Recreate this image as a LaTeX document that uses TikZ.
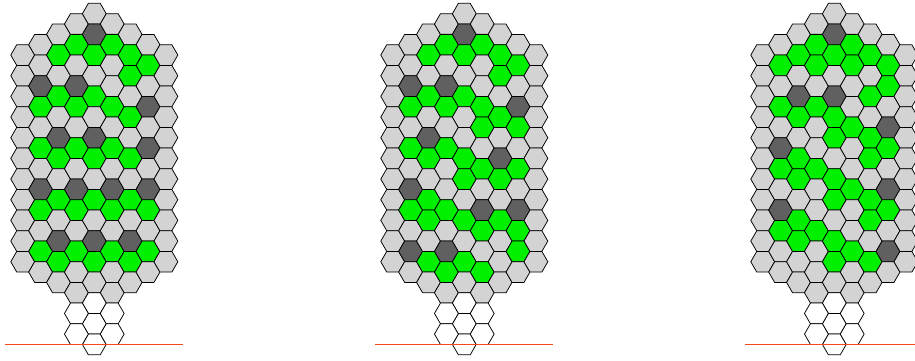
\documentclass[tikz,border=0pt]{standalone}
\usetikzlibrary{shapes.geometric}
\definecolor{hgray}{RGB}{211,211,211}
\definecolor{hdark}{RGB}{96,96,96}
\definecolor{hgreen}{RGB}{0,240,0}
\definecolor{hred}{RGB}{250,70,30}
\newcommand\markcells[3]{\foreach \cc/\kk in {#3}{\expandafter\xdef\csname hexcell-#1-\cc-\kk\endcsname{#2}}}
% grid 1
\markcells{1}{hdark}{4/2,1/7,3/7,7/9,2/12,4/12,7/13,1/17,3/17,5/17,7/17,2/22,4/22,6/22}
\markcells{1}{hgreen}{3/3,5/3,2/4,4/4,6/4,7/5,6/6,2/8,4/8,1/9,3/9,5/9,6/10,1/13,3/13,5/13,2/14,4/14,6/14,2/18,4/18,6/18,1/19,3/19,5/19,7/19,1/23,3/23,5/23,7/23,2/24,4/24,6/24}
% grid 2
\markcells{2}{hdark}{4/2,1/7,3/7,7/9,2/12,6/14,1/17,5/19,7/19,1/23,3/23}
\markcells{2}{hgreen}{3/3,5/3,2/4,4/4,6/4,7/5,6/6,2/8,4/8,1/9,3/9,5/9,6/10,5/11,7/11,1/13,3/13,2/14,4/14,5/15,7/15,4/16,6/16,2/18,1/19,3/19,2/20,4/20,6/20,5/21,7/21,7/23,2/24,4/24,3/25,5/25}
% grid 3
\markcells{3}{hdark}{4/2,2/8,4/8,7/11,1/13,7/17,1/19,7/23}
\markcells{3}{hgreen}{3/3,5/3,2/4,4/4,6/4,1/5,3/5,5/5,7/5,7/7,6/8,1/9,3/9,2/10,4/10,5/11,4/12,6/12,7/13,2/14,6/14,1/15,3/15,2/16,4/16,5/17,4/18,6/18,7/19,2/20,6/20,1/21,3/21,2/22,4/22,5/23,4/24,6/24}
\tikzset{
  hexcell/.style={regular polygon, regular polygon sides=6, minimum size=23.86pt,
    inner sep=0pt, outer sep=0pt, draw=black, line width=0.75pt},
  redline/.style={draw=hred, line width=0.9pt}
}
\begin{document}
\begin{tikzpicture}[x=1pt,y=-1pt]
\useasboundingbox (0,0) rectangle (915,360);
\clip (0,0) rectangle (915,360);
\fill[white] (0,0) rectangle (915,360);
\foreach \g/\gx in {1/94.3,2/464.3,3/834.3}{
  \foreach \cc/\kt/\nn in {0/4/10,1/3/11,2/2/12,3/1/13,4/0/13,5/1/13,6/2/12,7/3/11,8/4/10}{
    \foreach \ii in {0,...,\nn}{
      \pgfmathtruncatemacro\kk{\kt+2*\ii}
      \ifcsname hexcell-\g-\cc-\kk\endcsname
        \edef\fc{\csname hexcell-\g-\cc-\kk\endcsname}
      \else
        \def\fc{hgray}
      \fi
      \node[hexcell,fill=\fc] (h\g-\cc-\kk) at ({\gx+(\cc-4)*17.9},{13.7+\kk*10.335}) {};
    }
  }
}
\foreach \g/\gx in {1/94.3,2/464.3,3/834.3}{
  \foreach \cc/\kk in {4/28,4/30,4/32,3/29,3/31,5/29,5/31}{
    \node[hexcell,fill=white] (w\g-\cc-\kk) at ({\gx+(\cc-4)*17.9},{13.7+\kk*10.335}) {};
  }
  \coordinate (rl\g) at ({\gx-89},344);
  \coordinate (rr\g) at ({\gx+89},344);
  \draw[redline] (rl\g) -- (rr\g);
}
\end{tikzpicture}
\end{document}
